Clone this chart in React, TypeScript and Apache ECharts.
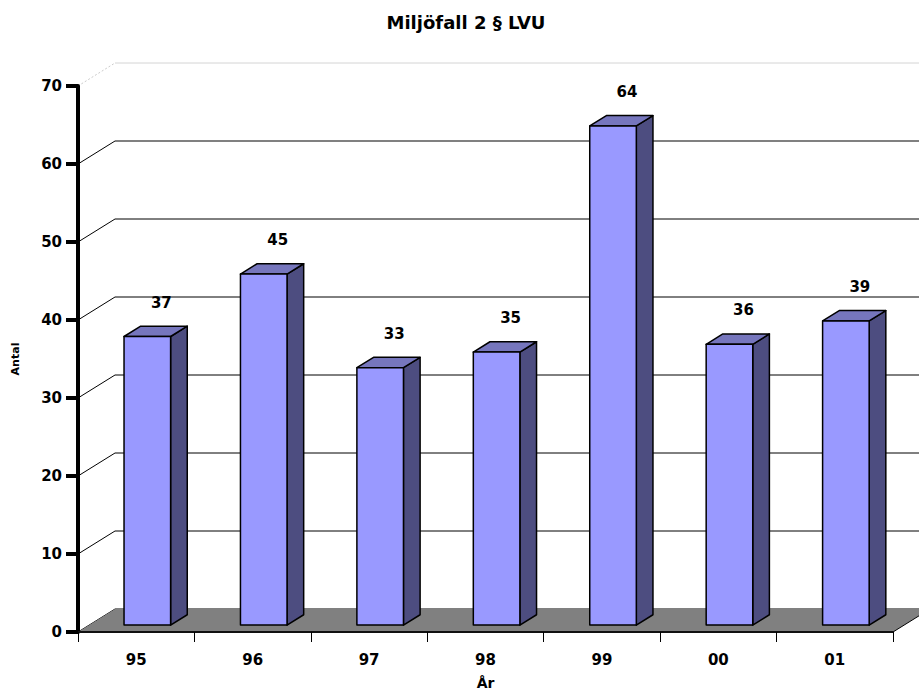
import React, { useEffect, useRef } from "react";
import * as echarts from "echarts";

const categories = ["95", "96", "97", "98", "99", "00", "01"];
const values = [37, 45, 33, 35, 64, 36, 39];
const yTicks = [0, 10, 20, 30, 40, 50, 60, 70];

const DX = 37;
const DY = -23;
const FONT = "'DejaVu Sans', Verdana, sans-serif";

export default function App() {
  const ref = useRef<HTMLDivElement>(null);

  useEffect(() => {
    if (!ref.current) return;
    const chart = echarts.init(ref.current, null, { renderer: "svg" });

    const option: any = {
      animation: false,
      backgroundColor: "#ffffff",
      title: {
        text: "Miljöfall 2 § LVU",
        left: 466,
        top: 13,
        textAlign: "center",
        padding: 0,
        textStyle: { fontSize: 18, fontWeight: "bold", fontFamily: FONT, color: "#000" },
      },
      grid: { left: 78, right: 26, top: 86, bottom: 58, outerBoundsMode: "none", containLabel: false },
      xAxis: {
        type: "category",
        data: categories,
        z: 10,
        name: "År",
        nameLocation: "middle",
        nameGap: 44,
        nameTextStyle: { fontSize: 14, fontWeight: "bold", fontFamily: FONT, color: "#000" },
        axisLine: { show: true, lineStyle: { color: "#111", width: 2 } },
        axisTick: { show: true, length: 10, lineStyle: { color: "#000", width: 1 } },
        axisLabel: { margin: 20, fontSize: 15, fontWeight: "bold", fontFamily: FONT, color: "#000" },
        splitLine: { show: false },
      },
      yAxis: {
        type: "value",
        min: 0,
        max: 70,
        interval: 10,
        z: 10,
        name: "Antal",
        nameLocation: "middle",
        nameGap: 57,
        nameRotate: 90,
        nameTextStyle: { fontSize: 11, fontWeight: "bold", fontFamily: FONT, color: "#000" },
        axisLine: { show: true, lineStyle: { color: "#000", width: 4 } },
        axisTick: { show: true, length: 12, lineStyle: { color: "#000", width: 4 } },
        axisLabel: { margin: 16, fontSize: 15, fontWeight: "bold", fontFamily: FONT, color: "#000" },
        splitLine: { show: false },
      },
      series: [
        {
          type: "custom",
          name: "wall",
          silent: true,
          z: 1,
          data: yTicks.map((v) => [0, v]),
          encode: { x: 0, y: 1 },
          renderItem: (params: any, api: any) => {
            const cs = params.coordSys;
            const v = api.value(1);
            const y = api.coord([0, v])[1];
            const top = v === yTicks[yTicks.length - 1];
            const color = top ? "#d4d4d4" : v === 60 ? "#808080" : "#000";
            const width = v === 60 ? 2 : 1;
            return {
              type: "group",
              children: [
                {
                  type: "line",
                  shape: { x1: cs.x + DX, y1: y + DY, x2: cs.x + cs.width + DX, y2: y + DY },
                  style: { stroke: color, lineWidth: width },
                },
                {
                  type: "line",
                  shape: { x1: cs.x, y1: y, x2: cs.x + DX, y2: y + DY },
                  style: { stroke: top ? "#cccccc" : "#000", lineWidth: 1, lineDash: top ? [2, 2] : null },
                },
              ],
            };
          },
        },
        {
          type: "custom",
          name: "floor",
          silent: true,
          z: 2,
          data: [[0, 0]],
          encode: { x: 0, y: 1 },
          renderItem: (params: any, api: any) => {
            const cs = params.coordSys;
            const y0 = api.coord([0, 0])[1];
            const xl = cs.x;
            const xr = cs.x + cs.width;
            return {
              type: "group",
              children: [
                {
                  type: "polygon",
                  shape: {
                    points: [
                      [xl, y0],
                      [xr, y0],
                      [xr + DX, y0 + DY],
                      [xl + DX, y0 + DY],
                    ],
                  },
                  style: { fill: "#808080" },
                },
                {
                  type: "line",
                  shape: { x1: xr, y1: y0, x2: xr + DX, y2: y0 + DY },
                  style: { stroke: "#000", lineWidth: 1 },
                },
              ],
            };
          },
        },
        {
          type: "custom",
          name: "Antal",
          silent: true,
          z: 3,
          data: values.map((v, i) => [i, v]),
          encode: { x: 0, y: 1 },
          renderItem: (params: any, api: any) => {
            const i = api.value(0);
            const v = api.value(1);
            const base = api.coord([i, 0]);
            const topPt = api.coord([i, v]);
            const cw = api.size([1, 0])[0];
            const w = cw * 0.4;
            const fx = DX * 0.3;
            const fy = DY * 0.3;
            const dx = DX * 0.45;
            const dy = DY * 0.45;
            const x0 = base[0] - w / 2 + fx;
            const x1 = x0 + w;
            const yb = base[1] + fy;
            const yt = topPt[1] + fy;
            const stroke = { stroke: "#000", lineWidth: 1.5, lineJoin: "round" };
            return {
              type: "group",
              children: [
                {
                  type: "polygon",
                  shape: { points: [[x1, yb], [x1, yt], [x1 + dx, yt + dy], [x1 + dx, yb + dy]] },
                  style: { fill: "#4d4d80", ...stroke },
                },
                {
                  type: "polygon",
                  shape: { points: [[x0, yt], [x1, yt], [x1 + dx, yt + dy], [x0 + dx, yt + dy]] },
                  style: { fill: "#7676bd", ...stroke },
                },
                {
                  type: "rect",
                  shape: { x: x0, y: yt, width: w, height: yb - yt },
                  style: { fill: "#9999ff", ...stroke },
                },
                {
                  type: "text",
                  style: {
                    text: String(v),
                    x: (x0 + x1) / 2 + 14,
                    y: yt + dy - 23.5,
                    align: "center",
                    verticalAlign: "middle",
                    font: "bold 15px " + FONT,
                    fill: "#000",
                  },
                },
              ],
            };
          },
        },
      ],
    };

    chart.setOption(option);
    return () => chart.dispose();
  }, []);

  return (
    <div
      ref={ref}
      style={{ position: "absolute", left: 0, top: 0, width: 919, height: 690, background: "#fff" }}
    />
  );
}
